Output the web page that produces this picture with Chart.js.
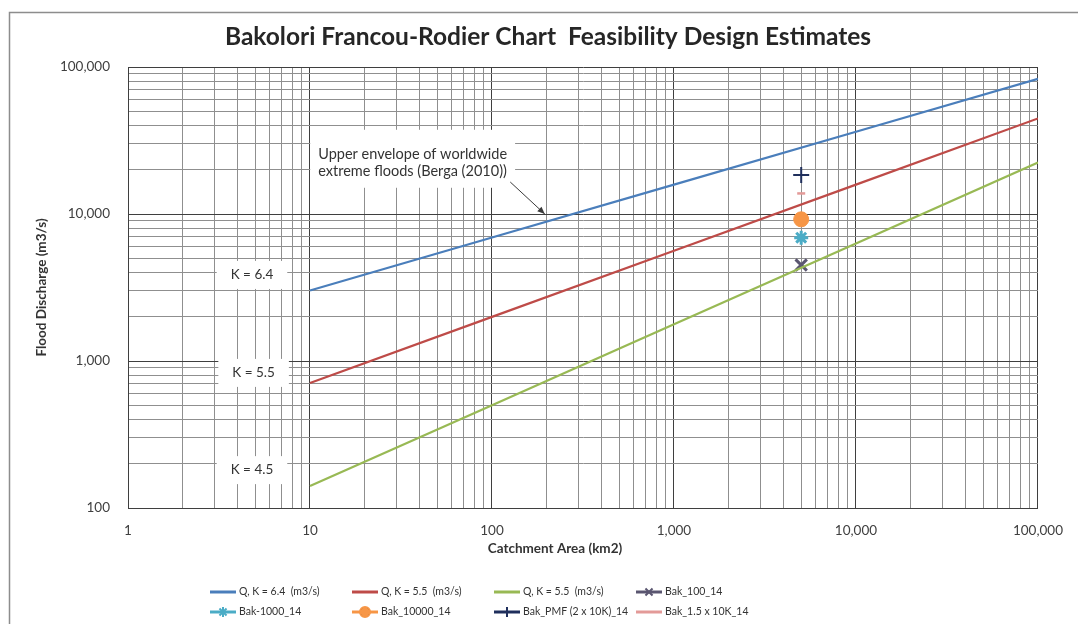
<!DOCTYPE html>
<html>
<head>
<meta charset="utf-8">
<script src="https://cdn.jsdelivr.net/npm/chart.js@4.4.1/dist/chart.umd.min.js"></script>
<style>
  html, body { margin: 0; padding: 0; background: #fff; }
  #wrap { width: 1078px; height: 624px; }
</style>
</head>
<body>
<div id="wrap"><canvas id="chart" width="1078" height="624"></canvas></div>
<script>
// ── Francou-Rodier envelope curves, read at each decade of catchment area ──
const areas = [10, 100, 1000, 10000, 100000];
const qK64 = [3020, 6920, 15850, 36300, 83200];
const qK55 = [708, 1995, 5620, 15850, 44670];
const qK45 = [141, 500, 1780, 6310, 22400];

// ── Bakolori design estimates at the dam site ──
const bakArea = 5000;
const bak100 = 4500;
const bak1000 = 6900;
const bak10000 = 9200;
const bakPMF = 18400;
const bak15x10k = 13800;

// ── Axis decades (labelled ticks) ──
const xDecades = [1, 10, 100, 1000, 10000, 100000];
const yDecades = [100, 1000, 10000, 100000];

// ── Curve labels and the envelope note (data coordinates) ──
const kLabels = ['K = 6.4', 'K = 5.5', 'K = 4.5'];
const kLabelArea = [4.8, 4.9, 4.8];
const kLabelQ = [3850, 830, 181];
const noteLines = ['Upper envelope of worldwide', 'extreme floods (Berga (2010))'];

const FONT = "Lato, 'Liberation Sans', sans-serif";

// 1..9 x each decade, for Excel-style minor gridlines
function logTicks(decades) {
  const out = [];
  for (let i = 0; i < decades.length - 1; i++) {
    for (let m = 1; m <= 9; m++) out.push(m * decades[i]);
  }
  out.push(decades[decades.length - 1]);
  return out;
}
const isDecade = v => Math.abs(Math.log10(v) - Math.round(Math.log10(v))) < 1e-9;

const toPts = ys => areas.map((a, i) => ({ x: a, y: ys[i] }));
const onePt = y => [{ x: bakArea, y }];

const datasets = [
  { label: 'Q, K = 6.4  (m3/s)', data: toPts(qK64), showLine: true, borderColor: '#4a7ebb', borderWidth: 2.2, pointRadius: 0 },
  { label: 'Q, K = 5.5  (m3/s)', data: toPts(qK55), showLine: true, borderColor: '#be4b48', borderWidth: 2.2, pointRadius: 0 },
  { label: 'Q, K = 5.5  (m3/s)', data: toPts(qK45), showLine: true, borderColor: '#98b954', borderWidth: 2.2, pointRadius: 0 },
  { label: 'Bak_100_14', data: onePt(bak100), pointStyle: 'crossRot', pointRadius: 8, borderColor: '#5a5670', borderWidth: 3, marker: true },
  { label: 'Bak-1000_14', data: onePt(bak1000), pointStyle: 'star', pointRadius: 7, borderColor: '#4bacc6', borderWidth: 3, marker: true },
  { label: 'Bak_10000_14', data: onePt(bak10000), pointStyle: 'circle', pointRadius: 7.5, backgroundColor: '#f79646', borderColor: '#f79646', borderWidth: 1, marker: true },
  { label: 'Bak_PMF (2 x 10K)_14', data: onePt(bakPMF), pointStyle: 'cross', pointRadius: 8, borderColor: '#1f2f5c', borderWidth: 2, marker: true },
  { label: 'Bak_1.5 x 10K_14', data: onePt(bak15x10k), pointStyle: 'line', pointRadius: 4, borderColor: '#e39a98', borderWidth: 2.5, marker: true }
];

// ── Titles, labels, note, legend and outer frame ──
const decorPlugin = {
  id: 'decor',
  afterDraw(chart) {
    const ctx = chart.ctx;
    const xs = chart.scales.x, ys = chart.scales.y;
    const area = chart.chartArea;
    ctx.save();

    // outer chart frame
    ctx.strokeStyle = '#8d8d8d';
    ctx.lineWidth = 1.5;
    ctx.beginPath();
    ctx.moveTo(9.5, 640); ctx.lineTo(9.5, 12.5); ctx.lineTo(1090, 12.5);
    ctx.stroke();

    // chart title
    ctx.fillStyle = '#262626';
    ctx.textAlign = 'center';
    ctx.textBaseline = 'middle';
    ctx.font = 'bold 24.5px ' + FONT;
    ctx.fillText('Bakolori Francou-Rodier Chart  Feasibility Design Estimates', 548, 37);

    // axis titles
    ctx.font = 'bold 13.5px ' + FONT;
    ctx.fillStyle = '#333';
    ctx.fillText('Catchment Area (km2)', 555, 549);
    ctx.save();
    ctx.translate(42, (area.top + area.bottom) / 2);
    ctx.rotate(-Math.PI / 2);
    ctx.fillText('Flood Discharge (m3/s)', 0, 0);
    ctx.restore();

    // K labels on white boxes
    ctx.font = '13.5px ' + FONT;
    kLabels.forEach((t, i) => {
      const px = xs.getPixelForValue(kLabelArea[i]);
      const py = ys.getPixelForValue(kLabelQ[i]);
      const w = ctx.measureText(t).width + 28;
      ctx.fillStyle = '#fff';
      ctx.fillRect(px - w / 2, py - 14, w, 28);
      ctx.fillStyle = '#333';
      ctx.fillText(t, px, py);
    });

    // envelope note with arrow to the K = 6.4 curve
    ctx.font = '14.5px ' + FONT;
    ctx.textAlign = 'left';
    const nx = xs.getPixelForValue(11.1);
    const ny = ys.getPixelForValue(33000);
    const nw = Math.max(...noteLines.map(l => ctx.measureText(l).width));
    ctx.fillStyle = '#fff';
    ctx.fillRect(nx - 8, ny - 8, nw + 16, 58);
    ctx.fillStyle = '#333';
    noteLines.forEach((l, i) => ctx.fillText(l, nx, ny + 17 + i * 17));

    const ax0 = xs.getPixelForValue(126), ay0 = ys.getPixelForValue(16500);
    const ax1 = xs.getPixelForValue(195), ay1 = ys.getPixelForValue(10000);
    const ang = Math.atan2(ay1 - ay0, ax1 - ax0);
    ctx.strokeStyle = '#3a3a3a';
    ctx.fillStyle = '#3a3a3a';
    ctx.lineWidth = 1;
    ctx.beginPath(); ctx.moveTo(ax0, ay0); ctx.lineTo(ax1, ay1); ctx.stroke();
    ctx.beginPath();
    ctx.moveTo(ax1, ay1);
    ctx.lineTo(ax1 - 8 * Math.cos(ang - 0.4), ay1 - 8 * Math.sin(ang - 0.4));
    ctx.lineTo(ax1 - 8 * Math.cos(ang + 0.4), ay1 - 8 * Math.sin(ang + 0.4));
    ctx.closePath(); ctx.fill();

    // legend: two rows of four columns
    ctx.font = '10.5px ' + FONT;
    ctx.textBaseline = 'middle';
    chart.data.datasets.forEach((ds, i) => {
      const col = i % 4, row = Math.floor(i / 4);
      const lx = 210 + col * 142, ly = 592 + row * 20;
      ctx.strokeStyle = ds.borderColor;
      ctx.lineWidth = 3;
      ctx.beginPath(); ctx.moveTo(lx, ly); ctx.lineTo(lx + 26, ly); ctx.stroke();
      if (ds.marker) {
        ctx.lineWidth = 2;
        Chart.helpers.drawPoint(ctx, {
          pointStyle: ds.pointStyle, radius: Math.min(ds.pointRadius, 5), rotation: 0, borderWidth: 2
        }, lx + 13, ly);
        ctx.fillStyle = ds.backgroundColor || ds.borderColor;
        if (ds.pointStyle === 'circle') {
          ctx.beginPath(); ctx.arc(lx + 13, ly, 4.5, 0, Math.PI * 2); ctx.fill();
        }
      }
      ctx.fillStyle = '#333';
      ctx.fillText(ds.label, lx + 29, ly);
    });

    ctx.restore();
  }
};

const tickFont = { family: FONT, size: 13.5 };
const gridColor = c => isDecade(c.tick.value) ? '#3f3f3f' : '#8f8f8f';

new Chart(document.getElementById('chart'), {
  type: 'scatter',
  data: { datasets },
  plugins: [decorPlugin],
  options: {
    responsive: false,
    animation: false,
    layout: { padding: { left: 0, top: 67, right: 33, bottom: 0 } },
    plugins: { legend: { display: false }, title: { display: false }, tooltip: { enabled: false } },
    scales: {
      x: {
        type: 'logarithmic', min: 1, max: 100000,
        afterBuildTicks: s => { s.ticks = logTicks(xDecades).map(v => ({ value: v })); },
        afterFit: s => { s.height = 116; },
        grid: { color: gridColor, lineWidth: 1, drawTicks: false },
        border: { display: true, color: '#3f3f3f' },
        ticks: {
          autoSkip: false, maxRotation: 0, padding: 15, color: '#404040', font: tickFont,
          callback: v => isDecade(v) ? v.toLocaleString('en-US') : ''
        }
      },
      y: {
        type: 'logarithmic', min: 100, max: 100000,
        afterBuildTicks: s => { s.ticks = logTicks(yDecades).map(v => ({ value: v })); },
        afterFit: s => { s.width = 128; },
        grid: { color: gridColor, lineWidth: 1, drawTicks: false },
        border: { display: true, color: '#3f3f3f' },
        ticks: {
          autoSkip: false, padding: 18, color: '#404040', font: tickFont,
          callback: v => isDecade(v) ? v.toLocaleString('en-US') : ''
        }
      }
    }
  }
});
</script>
</body>
</html>
